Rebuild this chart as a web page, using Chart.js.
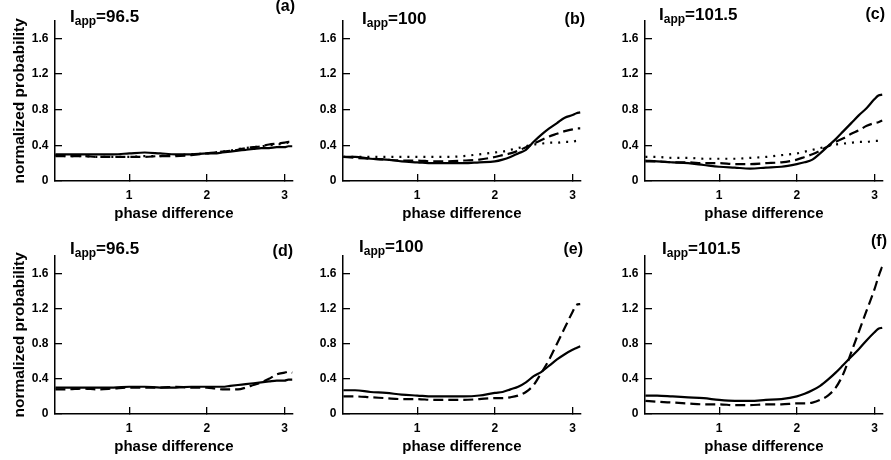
<!DOCTYPE html>
<html>
<head>
<meta charset="utf-8">
<script src="https://cdn.jsdelivr.net/npm/chart.js@4.4.1/dist/chart.umd.min.js"></script>
<style>
  body { margin: 0; background: #fff; }
  #wrap { position: relative; width: 891px; height: 460px; overflow: hidden;
          font-family: "Liberation Sans", Arial, sans-serif; font-weight: bold; color: #000; }
  #wrap canvas { position: absolute; }
  .lab { position: absolute; font-size: 17px; line-height: 17px; white-space: nowrap; }
  .lab sub { font-size: 12px; line-height: 0; vertical-align: -3px; }
  .tag { position: absolute; font-size: 16px; line-height: 16px; white-space: nowrap; }
</style>
</head>
<body>
<div id="wrap">
  <canvas id="pa" width="302" height="226" style="left:0px;top:0px"></canvas>
  <canvas id="pb" width="302" height="226" style="left:288px;top:0px"></canvas>
  <canvas id="pc" width="302" height="226" style="left:590px;top:0px"></canvas>
  <canvas id="pd" width="302" height="224" style="left:0px;top:235px"></canvas>
  <canvas id="pe" width="302" height="224" style="left:288px;top:235px"></canvas>
  <canvas id="pf" width="302" height="224" style="left:590px;top:235px"></canvas>

  <div class="lab" style="left:70px;top:8px">I<sub>app</sub>=96.5</div>
  <div class="lab" style="left:362px;top:10px">I<sub>app</sub>=100</div>
  <div class="lab" style="left:659px;top:6px">I<sub>app</sub>=101.5</div>
  <div class="lab" style="left:70px;top:240px">I<sub>app</sub>=96.5</div>
  <div class="lab" style="left:359px;top:238px">I<sub>app</sub>=100</div>
  <div class="lab" style="left:662px;top:240px">I<sub>app</sub>=101.5</div>

  <div class="tag" style="right:596px;top:-2px">(a)</div>
  <div class="tag" style="right:306px;top:11px">(b)</div>
  <div class="tag" style="right:6px;top:6px">(c)</div>
  <div class="tag" style="right:598px;top:243px">(d)</div>
  <div class="tag" style="right:308px;top:241px">(e)</div>
  <div class="tag" style="right:4px;top:233px">(f)</div>
</div>

<script>
// phase difference sample points
const phase = [0.05, 0.2, 0.4, 0.6, 0.8, 1.0, 1.2, 1.4, 1.6, 1.8, 2.0, 2.1, 2.2, 2.3, 2.4, 2.5, 2.6, 2.7, 2.8, 2.9, 3.0, 3.05, 3.1];

// top row
const aSolid  = [0.30, 0.30, 0.30, 0.30, 0.30, 0.31, 0.32, 0.31, 0.30, 0.30, 0.31, 0.31, 0.32, 0.33, 0.34, 0.35, 0.36, 0.37, 0.37, 0.38, 0.38, 0.39, 0.39];
const aDashed = [0.28, 0.28, 0.28, 0.27, 0.27, 0.27, 0.27, 0.28, 0.28, 0.29, 0.31, 0.32, 0.33, 0.34, 0.35, 0.37, 0.38, 0.39, 0.41, 0.42, 0.43, 0.44, 0.44];
const aDotted = [0.29, 0.28, 0.28, 0.27, 0.27, 0.27, 0.28, 0.28, 0.29, 0.30, 0.31, 0.32, 0.33, 0.34, 0.36, 0.37, 0.38, 0.39, 0.40, 0.41, 0.42, 0.43, 0.43];

const bSolid  = [0.27, 0.27, 0.25, 0.24, 0.22, 0.21, 0.20, 0.20, 0.20, 0.21, 0.22, 0.24, 0.27, 0.31, 0.35, 0.44, 0.52, 0.59, 0.65, 0.71, 0.74, 0.76, 0.77];
const bDashed = [0.27, 0.26, 0.25, 0.24, 0.23, 0.23, 0.22, 0.22, 0.23, 0.24, 0.27, 0.29, 0.31, 0.34, 0.38, 0.42, 0.46, 0.50, 0.53, 0.56, 0.58, 0.59, 0.59];
const bDotted = [0.27, 0.27, 0.27, 0.27, 0.27, 0.27, 0.27, 0.27, 0.28, 0.30, 0.32, 0.33, 0.35, 0.37, 0.39, 0.41, 0.42, 0.43, 0.43, 0.44, 0.44, 0.45, 0.45];

const cSolid  = [0.23, 0.22, 0.21, 0.20, 0.18, 0.16, 0.15, 0.14, 0.15, 0.16, 0.19, 0.21, 0.24, 0.31, 0.39, 0.47, 0.56, 0.65, 0.74, 0.82, 0.92, 0.96, 0.97];
const cDashed = [0.22, 0.22, 0.21, 0.21, 0.20, 0.20, 0.19, 0.19, 0.20, 0.21, 0.24, 0.27, 0.30, 0.34, 0.39, 0.44, 0.48, 0.53, 0.57, 0.62, 0.65, 0.66, 0.68];
const cDotted = [0.27, 0.27, 0.26, 0.26, 0.25, 0.25, 0.25, 0.26, 0.27, 0.29, 0.31, 0.33, 0.35, 0.37, 0.39, 0.41, 0.42, 0.43, 0.44, 0.44, 0.45, 0.45, 0.45];

// bottom row
const dSolid  = [0.30, 0.30, 0.30, 0.30, 0.30, 0.31, 0.31, 0.30, 0.30, 0.31, 0.31, 0.31, 0.31, 0.32, 0.33, 0.34, 0.35, 0.36, 0.37, 0.38, 0.38, 0.39, 0.39];
const dDashed = [0.28, 0.28, 0.29, 0.28, 0.29, 0.30, 0.30, 0.30, 0.31, 0.30, 0.30, 0.29, 0.28, 0.28, 0.28, 0.30, 0.33, 0.36, 0.40, 0.45, 0.47, 0.48, 0.47];

const eSolid  = [0.27, 0.27, 0.25, 0.24, 0.22, 0.21, 0.20, 0.20, 0.20, 0.21, 0.24, 0.25, 0.28, 0.31, 0.36, 0.43, 0.48, 0.55, 0.62, 0.68, 0.73, 0.75, 0.77];
const eDashed = [0.20, 0.20, 0.19, 0.18, 0.17, 0.17, 0.16, 0.16, 0.16, 0.17, 0.18, 0.18, 0.19, 0.21, 0.25, 0.33, 0.47, 0.62, 0.80, 0.98, 1.16, 1.24, 1.25];

const fSolid  = [0.21, 0.21, 0.20, 0.19, 0.18, 0.16, 0.15, 0.15, 0.16, 0.17, 0.20, 0.23, 0.27, 0.32, 0.39, 0.47, 0.56, 0.65, 0.74, 0.84, 0.93, 0.97, 0.98];
const fDashed = [0.15, 0.14, 0.13, 0.12, 0.11, 0.11, 0.10, 0.10, 0.11, 0.11, 0.12, 0.12, 0.13, 0.16, 0.21, 0.30, 0.46, 0.70, 0.94, 1.18, 1.42, 1.56, 1.68];

const SOLID = [];
const DASHED = [10, 5];
const DOTTED = [2, 6];

const fontFam = '"Liberation Sans", Arial, sans-serif';

function makeChart(id, lines, leftCol, padTop) {
  const datasets = lines.map(l => ({
    data: phase.map((x, i) => ({ x: x, y: l[0][i] })),
    borderColor: '#000',
    borderWidth: 2.2,
    borderDash: l[1],
    pointRadius: 0,
    fill: false,
    cubicInterpolationMode: 'monotone'
  }));

  new Chart(document.getElementById(id), {
    type: 'line',
    data: { datasets: datasets },
    options: {
      responsive: false,
      animation: false,
      layout: { padding: { top: padTop, right: 4, bottom: 0, left: 0 } },
      plugins: { legend: { display: false }, tooltip: { enabled: false } },
      scales: {
        x: {
          type: 'linear',
          min: 0.045,
          max: 3.106,
          afterFit: s => { s.height = 45; },
          border: { color: '#000', width: 1.5 },
          grid: { drawOnChartArea: false, tickLength: -7, color: '#000', lineWidth: 1.3 },
          ticks: { stepSize: 1, includeBounds: false, padding: 14, maxRotation: 0, color: '#000',
                   font: { family: fontFam, size: 12, weight: 'bold' } },
          title: { display: true, text: 'phase difference', color: '#000',
                   font: { family: fontFam, size: 15, weight: 'bold' },
                   padding: { top: 0, bottom: 3.6 } }
        },
        y: {
          min: 0,
          max: 1.8,
          afterFit: s => { s.width = 55; },
          border: { color: '#000', width: 1.5 },
          grid: { drawOnChartArea: false, tickLength: -7, color: '#000', lineWidth: 1.3 },
          ticks: { stepSize: 0.4, includeBounds: false, padding: 13.5, color: '#000',
                   font: { family: fontFam, size: 12, weight: 'bold' } },
          title: { display: leftCol, text: 'normalized probability', color: '#000',
                   font: { family: fontFam, size: 15.5, weight: 'bold' },
                   padding: { top: 10, bottom: 0 } }
        }
      }
    }
  });
}

makeChart('pa', [[aSolid, SOLID], [aDashed, DASHED], [aDotted, DOTTED]], true, 2);
makeChart('pb', [[bSolid, SOLID], [bDashed, DASHED], [bDotted, DOTTED]], false, 2);
makeChart('pc', [[cSolid, SOLID], [cDashed, DASHED], [cDotted, DOTTED]], false, 2);
makeChart('pd', [[dSolid, SOLID], [dDashed, DASHED]], true, 3);
makeChart('pe', [[eSolid, SOLID], [eDashed, DASHED]], false, 3);
makeChart('pf', [[fSolid, SOLID], [fDashed, DASHED]], false, 3);
</script>
</body>
</html>
